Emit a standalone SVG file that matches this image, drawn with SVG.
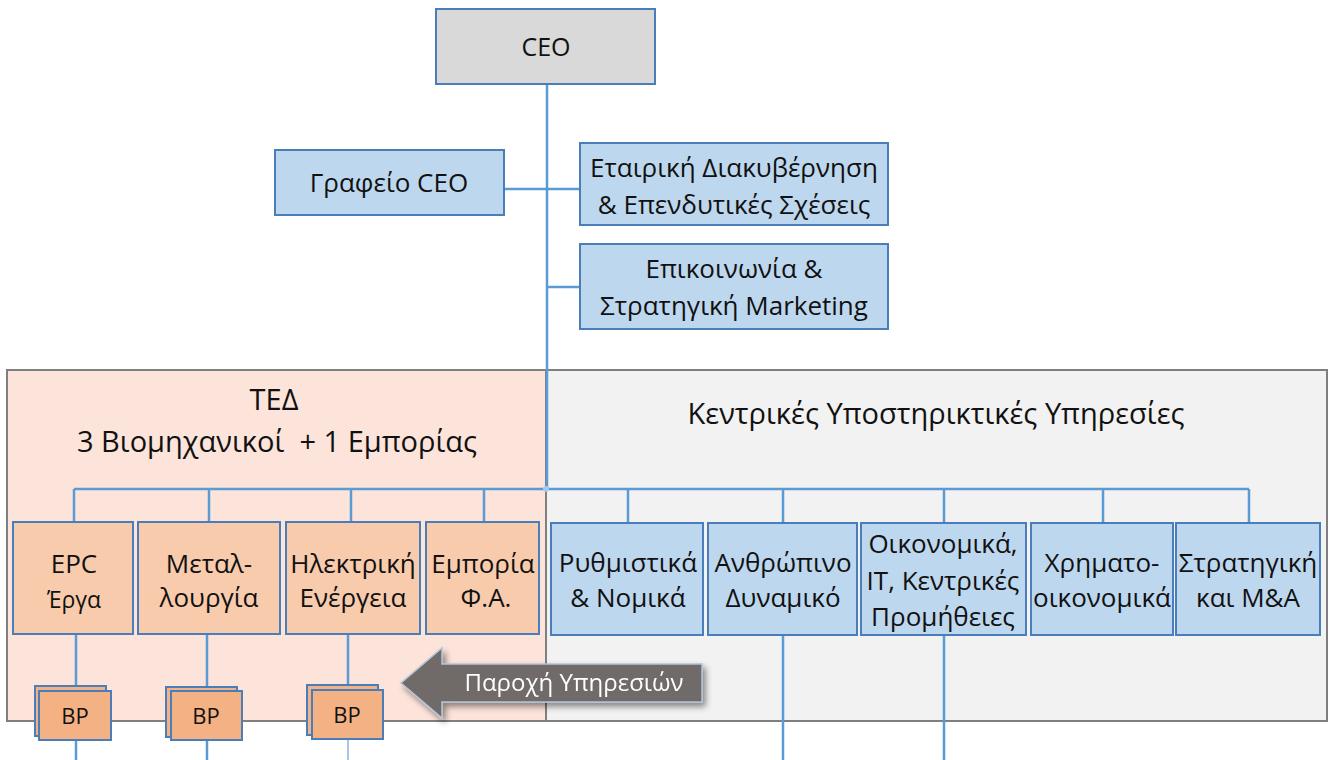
<svg xmlns="http://www.w3.org/2000/svg" width="1331" height="760" viewBox="0 0 1331 760">
  <defs>
    <style>
      text { font-family: "Open Sans", "Noto Sans", "Liberation Sans", sans-serif; fill: #111; text-anchor: middle; }
      .box-blue { fill: #bdd7ee; stroke: #4a7ebb; stroke-width: 2; }
      .box-grey { fill: #d9d9d9; stroke: #4a7ebb; stroke-width: 2; }
      .box-orange { fill: #f8cbad; stroke: #4a7ebb; stroke-width: 2; }
      .box-bp { fill: #f4b183; stroke: #4a7ebb; stroke-width: 2; }
      .panel { stroke: #7f7f7f; stroke-width: 2; }
      .conn { stroke: #5b9bd5; stroke-width: 2.5; fill: none; }
      .head { font-size: 29px; }
      .t26 { font-size: 26px; }
      .t25 { font-size: 25px; }
      .t23 { font-size: 23px; }
      .t22 { font-size: 22px; }
    </style>
    <filter id="shadow" x="-10%" y="-20%" width="130%" height="150%">
      <feGaussianBlur in="SourceAlpha" stdDeviation="3"/>
      <feOffset dx="3" dy="4"/>
      <feComponentTransfer><feFuncA type="linear" slope="0.45"/></feComponentTransfer>
      <feMerge><feMergeNode/><feMergeNode in="SourceGraphic"/></feMerge>
    </filter>
  </defs>

  <rect width="1331" height="760" fill="#ffffff"/>

  <!-- group panels -->
  <g id="panel-ted">
    <rect class="panel" x="7" y="370" width="539" height="351" fill="#fde4da"/>
    <text class="head" x="274" y="410">ΤΕΔ</text>
    <text class="head" x="277" y="452" xml:space="preserve">3 Βιομηχανικοί  + 1 Εμπορίας</text>
  </g>
  <g id="panel-central">
    <rect class="panel" x="546" y="370" width="781" height="351" fill="#f2f2f2"/>
    <text class="head" x="936" y="424">Κεντρικές Υποστηρικτικές Υπηρεσίες</text>
  </g>

  <!-- connectors -->
  <g id="connectors">
    <line class="conn" x1="547" y1="84" x2="547" y2="489"/>
    <line class="conn" x1="504" y1="189" x2="580" y2="189"/>
    <line class="conn" x1="547" y1="287" x2="580" y2="287"/>
    <line class="conn" x1="74" y1="489" x2="1249" y2="489"/>
    <line class="conn" x1="74" y1="489" x2="74" y2="522"/>
    <line class="conn" x1="209" y1="489" x2="209" y2="522"/>
    <line class="conn" x1="351" y1="489" x2="351" y2="522"/>
    <line class="conn" x1="484" y1="489" x2="484" y2="522"/>
    <line class="conn" x1="628" y1="489" x2="628" y2="522"/>
    <line class="conn" x1="783" y1="489" x2="783" y2="522"/>
    <line class="conn" x1="944" y1="489" x2="944" y2="522"/>
    <line class="conn" x1="1103" y1="489" x2="1103" y2="522"/>
    <line class="conn" x1="1249" y1="489" x2="1249" y2="522"/>
    <line class="conn" x1="76" y1="634" x2="76" y2="760"/>
    <line class="conn" x1="207" y1="634" x2="207" y2="760"/>
    <line class="conn" x1="348" y1="634" x2="348" y2="690"/>
    <line x1="348" y1="740" x2="348" y2="760" stroke="#a9c4e4" stroke-width="2"/>
    <line class="conn" x1="783" y1="635" x2="783" y2="760"/>
    <line class="conn" x1="944" y1="635" x2="944" y2="760"/>
    <circle cx="546" cy="489" r="3" fill="#a9c9ea"/>
  </g>

  <!-- executive level -->
  <g id="ceo">
    <rect class="box-grey" x="436" y="9" width="219" height="75"/>
    <text class="t25" x="546" y="56">CEO</text>
  </g>
  <g id="ceo-office">
    <rect class="box-blue" x="275" y="150" width="229" height="65"/>
    <text class="t26" x="389" y="192">Γραφείο CEO</text>
  </g>
  <g id="governance">
    <rect class="box-blue" x="580" y="143" width="308" height="82"/>
    <text class="t26" x="734" y="177">Εταιρική Διακυβέρνηση</text>
    <text class="t26" x="734" y="214">&amp; Επενδυτικές Σχέσεις</text>
  </g>
  <g id="communication">
    <rect class="box-blue" x="580" y="244" width="308" height="85"/>
    <text class="t26" x="734" y="278">Επικοινωνία &amp;</text>
    <text class="t26" x="734" y="315">Στρατηγική Marketing</text>
  </g>

  <!-- business units -->
  <g id="epc">
    <rect class="box-orange" x="13" y="522" width="120" height="112"/>
    <text class="t26" x="74" y="573">EPC</text>
    <text class="t23" x="74" y="608">Έργα</text>
  </g>
  <g id="metallurgy">
    <rect class="box-orange" x="138" y="522" width="142" height="112"/>
    <text class="t26" x="209" y="573">Μεταλ-</text>
    <text class="t26" x="209" y="607">λουργία</text>
  </g>
  <g id="power">
    <rect class="box-orange" x="286" y="522" width="134" height="112"/>
    <text class="t26" x="353" y="573">Ηλεκτρική</text>
    <text class="t26" x="353" y="607">Ενέργεια</text>
  </g>
  <g id="gas-trading">
    <rect class="box-orange" x="426" y="522" width="113" height="112"/>
    <text class="t26" x="483" y="573">Εμπορία</text>
    <text class="t26" x="486" y="607">Φ.Α.</text>
  </g>

  <!-- central services -->
  <g id="legal">
    <rect class="box-blue" x="551" y="523" width="152" height="112"/>
    <text class="t26" x="628" y="572">Ρυθμιστικά</text>
    <text class="t26" x="628" y="607">&amp; Νομικά</text>
  </g>
  <g id="hr">
    <rect class="box-blue" x="708" y="523" width="149" height="112"/>
    <text class="t26" x="783" y="572">Ανθρώπινο</text>
    <text class="t26" x="783" y="607">Δυναμικό</text>
  </g>
  <g id="finance-it">
    <rect class="box-blue" x="861" y="523" width="165" height="112"/>
    <text class="t26" x="943" y="553">Οικονομικά,</text>
    <text class="t26" x="943" y="590">IT, Κεντρικές</text>
    <text class="t26" x="943" y="626">Προμήθειες</text>
  </g>
  <g id="treasury">
    <rect class="box-blue" x="1031" y="523" width="142" height="112"/>
    <text class="t26" x="1102" y="572">Χρηματο-</text>
    <text class="t26" x="1102" y="607">οικονομικά</text>
  </g>
  <g id="strategy">
    <rect class="box-blue" x="1176" y="523" width="144" height="112"/>
    <text class="t26" x="1248" y="572">Στρατηγική</text>
    <text class="t26" x="1248" y="607">και M&amp;A</text>
  </g>

  <!-- BP stacks -->
  <g id="bp-1">
    <rect class="box-bp" x="35" y="686" width="71" height="50"/>
    <rect class="box-bp" x="39" y="691" width="72" height="49"/>
    <text class="t22" x="75" y="724">BP</text>
  </g>
  <g id="bp-2">
    <rect class="box-bp" x="166" y="687" width="71" height="50"/>
    <rect class="box-bp" x="171" y="691" width="71" height="49"/>
    <text class="t22" x="206" y="724">BP</text>
  </g>
  <g id="bp-3">
    <rect class="box-bp" x="307" y="685" width="71" height="50"/>
    <rect class="box-bp" x="312" y="690" width="71" height="49"/>
    <text class="t22" x="347" y="723">BP</text>
  </g>

  <!-- service arrow -->
  <g id="service-arrow" filter="url(#shadow)">
    <path d="M401,683 L442,648 L442,664 L702,664 L702,702 L442,702 L442,718 Z" fill="#6f6a69" stroke="#b4c3d6" stroke-width="1.5"/>
    <text x="574" y="691" style="font-size:24px; fill:#ffffff;">Παροχή Υπηρεσιών</text>
  </g>
</svg>
